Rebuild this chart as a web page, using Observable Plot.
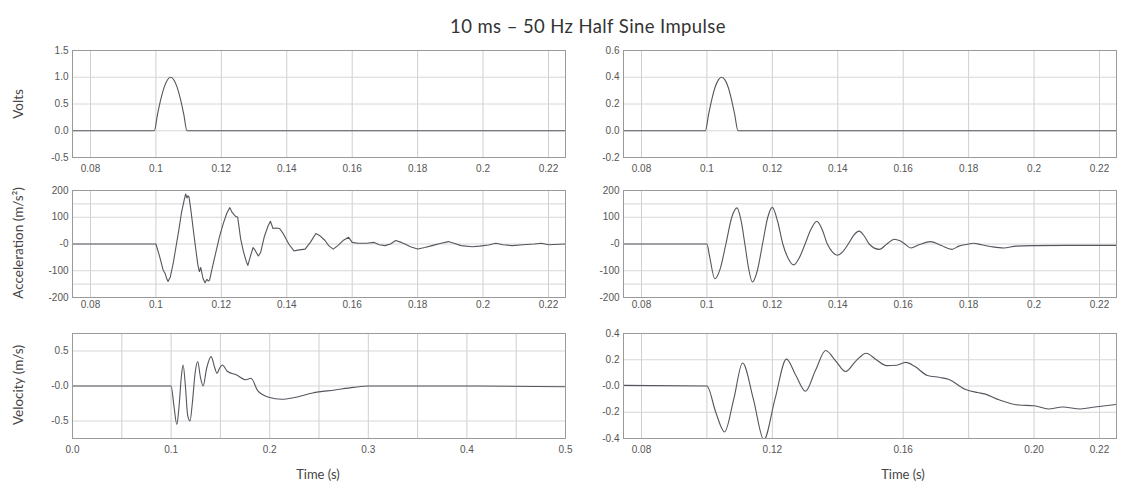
<!DOCTYPE html>
<html><head><meta charset="utf-8">
<script src="https://cdn.jsdelivr.net/npm/d3@7"></script>
<script src="https://cdn.jsdelivr.net/npm/@observablehq/plot@0.6"></script>
<style>
body{margin:0;background:#fff;}
#root{position:relative;width:1124px;height:490px;overflow:hidden;font-family:Lato, "Open Sans", sans-serif;}
.title{position:absolute;left:0;width:1176px;top:15px;text-align:center;font-size:18.5px;letter-spacing:0.4px;color:#333;}
.ylab{position:absolute;transform:translate(-50%,-50%) rotate(-90deg);white-space:nowrap;font-size:13.5px;color:#444;}
.xlab{position:absolute;transform:translate(-50%,-50%);white-space:nowrap;font-size:13px;color:#444;}
</style></head><body><div id="root"></div>
<script>
// ---------- data ----------
const title = "10 ms \u2013 50 Hz Half Sine Impulse";
const yTitles = ["Volts", "Acceleration (m/s\u00B2)", "Velocity (m/s)"];
const xTitle = "Time (s)";

// x ticks for the zoomed time panels
const zoomDomain = [0.0745, 0.2252];
const zoomTicks = [0.08, 0.1, 0.12, 0.14, 0.16, 0.18, 0.2, 0.22];
const zoomTickLabels = ["0.08", "0.1", "0.12", "0.14", "0.16", "0.18", "0.2", "0.22"];
const velZoomLabelTicks = [0.08, 0.12, 0.16, 0.2, 0.22];
const velZoomLabels = ["0.08", "0.12", "0.16", "0.20", "0.22"];
const fullDomain = [0, 0.5];
const fullGrid = [0.05, 0.1, 0.15, 0.2, 0.25, 0.3, 0.35, 0.4, 0.45];
const fullTicks = [0, 0.1, 0.2, 0.3, 0.4, 0.5];
const fullTickLabels = ["0.0", "0.1", "0.2", "0.3", "0.4", "0.5"];

// y ticks
const voltsLTicks = [-0.5, 0, 0.5, 1, 1.5];
const voltsLLabels = ["-0.5", "0.0", "0.5", "1.0", "1.5"];
const voltsRTicks = [-0.2, 0, 0.2, 0.4, 0.6];
const voltsRLabels = ["-0.2", "0.0", "0.2", "0.4", "0.6"];
const accTicks = [-200, -100, 0, 100, 200];
const accLabels = ["-200", "-100", "-0", "100", "200"];
const accGrid = [-150, -100, 0, 100, 150];
const velLTicks = [-0.5, 0, 0.5];
const velLLabels = ["-0.5", "-0.0", "0.5"];
const velRTicks = [-0.4, -0.2, 0, 0.2, 0.4];
const velRLabels = ["-0.4", "-0.2", "-0.0", "0.2", "0.4"];

// series: volts (half sine pulse)
const voltsT = [0.0745, 0.0995, 0.1005, 0.1015, 0.1025, 0.1035, 0.1045, 0.1055, 0.1065, 0.1075, 0.1085, 0.1095, 0.2252];
const voltsL = [0, 0, 0.31, 0.59, 0.81, 0.95, 1.0, 0.95, 0.81, 0.59, 0.31, 0, 0];
const voltsR = [0, 0, 0.12, 0.235, 0.325, 0.38, 0.4, 0.38, 0.325, 0.235, 0.12, 0, 0];

// series: acceleration, left
const accLT = [0.0745, 0.1, 0.1011, 0.1022, 0.1028, 0.1033, 0.1037, 0.1044, 0.1053, 0.1061, 0.107, 0.1078, 0.1087, 0.1091, 0.1095, 0.1098, 0.1101, 0.1106, 0.1117, 0.1128, 0.1133, 0.1137, 0.1144, 0.115, 0.1156, 0.116, 0.1164, 0.1172, 0.1183, 0.1194, 0.1206, 0.1217, 0.1226, 0.1233, 0.1242, 0.125, 0.1259, 0.1267, 0.1276, 0.1281, 0.1289, 0.1297, 0.1303, 0.1313, 0.132, 0.1331, 0.1342, 0.135, 0.1358, 0.1367, 0.1378, 0.1389, 0.1406, 0.1422, 0.1433, 0.1456, 0.1472, 0.1489, 0.15, 0.1517, 0.1528, 0.1542, 0.1556, 0.1572, 0.1589, 0.16, 0.1617, 0.1644, 0.1667, 0.1683, 0.17, 0.1717, 0.1733, 0.175, 0.1761, 0.1778, 0.18, 0.1822, 0.1844, 0.1872, 0.1894, 0.1911, 0.1933, 0.1967, 0.1989, 0.2017, 0.2039, 0.2061, 0.2089, 0.2122, 0.2156, 0.2178, 0.22, 0.2252];
const accLV = [0, 0, -45, -97, -110, -129, -140, -123, -71, -13, 52, 116, 168, 187, 172, 180, 176, 135, 26, -77, -103, -88, -129, -145, -132, -138, -135, -90, -32, 26, 77, 116, 136, 118, 105, 100, 19, -26, -65, -80, -45, -13, -23, -45, -32, 26, 65, 85, 58, 60, 58, 39, 0, -26, -23, -19, 6, 39, 32, 13, -6, -19, -6, 13, 25, 6, 3, 3, 6, -3, -6, 0, 13, 6, 0, -10, -19, -13, -6, 3, 9, 3, -6, -10, -8, -4, 3, -3, -6, -3, 0, 3, -3, 0];

// series: acceleration, right
const accRT = [0.0745, 0.1, 0.1008, 0.1024, 0.104, 0.1058, 0.1076, 0.1092, 0.1104, 0.1116, 0.1128, 0.1139, 0.1154, 0.117, 0.1186, 0.12, 0.1216, 0.1232, 0.1249, 0.1265, 0.1283, 0.13, 0.1318, 0.1336, 0.1352, 0.1368, 0.1384, 0.1399, 0.1416, 0.1432, 0.1449, 0.1465, 0.1481, 0.1496, 0.1527, 0.155, 0.1573, 0.159, 0.1605, 0.1623, 0.165, 0.1683, 0.1715, 0.1749, 0.177, 0.18, 0.1814, 0.184, 0.187, 0.1907, 0.1945, 0.2, 0.21, 0.2252];
const accRV = [0, 0, -45, -130, -95, 0, 100, 135, 90, 0, -95, -142, -100, 0, 100, 137, 85, 0, -55, -78, -50, 0, 55, 85, 55, 0, -30, -42, -28, 0, 33, 48, 30, 0, -20, 0, 18, 12, 0, -15, -2, 9, -5, -20, -8, 0, 3, -3, -10, -15, -8, -6, -5, -5];

// series: velocity, left (full time range)
const velLT = [0, 0.1, 0.103, 0.1058, 0.108, 0.1105, 0.1122, 0.1145, 0.1168, 0.1192, 0.1215, 0.1245, 0.127, 0.1298, 0.1325, 0.136, 0.1405, 0.1445, 0.1465, 0.149, 0.152, 0.157, 0.166, 0.176, 0.181, 0.188, 0.199, 0.212, 0.225, 0.2435, 0.266, 0.285, 0.3, 0.4, 0.5];
const velLV = [0, 0, -0.3, -0.55, -0.3, 0.15, 0.3, 0.0, -0.42, -0.5, -0.25, 0.2, 0.35, 0.12, 0.0, 0.25, 0.42, 0.25, 0.18, 0.25, 0.3, 0.21, 0.16, 0.09, 0.11, -0.07, -0.16, -0.19, -0.165, -0.1, -0.057, -0.02, 0.0, 0.0, -0.01];

// series: velocity, right (zoomed)
const velRT = [0.0745, 0.1, 0.1027, 0.1054, 0.1082, 0.1109, 0.1142, 0.1174, 0.1208, 0.1243, 0.1272, 0.1301, 0.1332, 0.1363, 0.1394, 0.1424, 0.1455, 0.1487, 0.1518, 0.1549, 0.158, 0.1608, 0.1635, 0.1674, 0.1712, 0.174, 0.1789, 0.1827, 0.1849, 0.1893, 0.1953, 0.2, 0.2044, 0.2087, 0.2142, 0.2186, 0.2252];
const velRV = [0.005, 0.0, -0.2, -0.35, -0.1, 0.175, -0.1, -0.41, -0.1, 0.205, 0.08, -0.04, 0.12, 0.27, 0.19, 0.11, 0.19, 0.25, 0.2, 0.155, 0.158, 0.18, 0.15, 0.08, 0.065, 0.05, -0.025, -0.05, -0.06, -0.105, -0.145, -0.15, -0.175, -0.16, -0.175, -0.16, -0.14];

// ---------- drawing ----------
const root = document.getElementById("root");
const rows = (T, V) => T.map((t, i) => ({t, v: V[i]}));
const fmt = (ticks, labels) => { const m = new Map(ticks.map((d, i) => [d, labels[i]])); return d => m.get(d) ?? ""; };

function panel(o) {
  const ML = 44, MR = 6, MT = 6, MB = 24;
  const svg = Plot.plot({
    width: o.w + ML + MR, height: o.h + MT + MB,
    marginLeft: ML, marginRight: MR, marginTop: MT, marginBottom: MB,
    x: {domain: o.xDomain}, y: {domain: o.yDomain},
    style: {fontFamily: "'Liberation Sans', sans-serif", fontSize: "10px", color: "#555", background: "transparent", overflow: "visible"},
    marks: [
      Plot.gridX(o.xGrid, {stroke: "#cfcfcf", strokeOpacity: 1}),
      Plot.gridY(o.yGrid, {stroke: "#d6d6d6", strokeOpacity: 1}),
      Plot.line(o.data, {x: "t", y: "v", curve: o.curve, stroke: "#55555e", strokeWidth: 1.1, clip: true}),
      Plot.frame({stroke: "#9a9a9a"}),
      Plot.axisX(o.xTicks, {tickSize: 0, tickPadding: o.xPad ?? 7, tickFormat: fmt(o.xTicks, o.xLabels), label: null}),
      Plot.axisY(o.yTicks, {tickSize: 0, tickPadding: 4, tickFormat: fmt(o.yTicks, o.yLabels), label: null})
    ]
  });
  svg.style.position = "absolute";
  svg.style.left = (o.left - ML) + "px";
  svg.style.top = (o.top - MT) + "px";
  root.appendChild(svg);
}

const L = 72, R = 623, W = 493;
const rowTop = [50, 190, 333], rowH = [107, 107, 105];

panel({left: L, top: rowTop[0], w: W, h: rowH[0], xDomain: zoomDomain, yDomain: [-0.5, 1.5],
  xGrid: zoomTicks, xTicks: zoomTicks, xLabels: zoomTickLabels, yGrid: [0, 0.5, 1], yTicks: voltsLTicks, yLabels: voltsLLabels,
  data: rows(voltsT, voltsL), curve: "monotone-x"});
panel({left: R, top: rowTop[0], w: W, h: rowH[0], xDomain: zoomDomain, yDomain: [-0.2, 0.6],
  xGrid: zoomTicks, xTicks: zoomTicks, xLabels: zoomTickLabels, yGrid: [0, 0.2, 0.4], yTicks: voltsRTicks, yLabels: voltsRLabels,
  data: rows(voltsT, voltsR), curve: "monotone-x"});
panel({left: L, top: rowTop[1], w: W, h: rowH[1], xDomain: zoomDomain, yDomain: [-200, 200], xPad: 3,
  xGrid: zoomTicks, xTicks: zoomTicks, xLabels: zoomTickLabels, yGrid: accGrid, yTicks: accTicks, yLabels: accLabels,
  data: rows(accLT, accLV), curve: "linear"});
panel({left: R, top: rowTop[1], w: W, h: rowH[1], xDomain: zoomDomain, yDomain: [-200, 200], xPad: 3,
  xGrid: zoomTicks, xTicks: zoomTicks, xLabels: zoomTickLabels, yGrid: accGrid, yTicks: accTicks, yLabels: accLabels,
  data: rows(accRT, accRV), curve: "monotone-x"});
panel({left: L, top: rowTop[2], w: W, h: rowH[2], xDomain: fullDomain, yDomain: [-0.75, 0.75],
  xGrid: fullGrid, xTicks: fullTicks, xLabels: fullTickLabels, yGrid: [-0.5, 0, 0.5], yTicks: velLTicks, yLabels: velLLabels,
  data: rows(velLT, velLV), curve: "monotone-x"});
panel({left: R, top: rowTop[2], w: W, h: rowH[2], xDomain: zoomDomain, yDomain: [-0.4, 0.4],
  xGrid: zoomTicks, xTicks: velZoomLabelTicks, xLabels: velZoomLabels, yGrid: [-0.2, 0, 0.2], yTicks: velRTicks, yLabels: velRLabels,
  data: rows(velRT, velRV), curve: "monotone-x"});

// texts
const t = document.createElement("div"); t.className = "title"; t.textContent = title; root.appendChild(t);
const yCenters = [104, 243, 385];
yTitles.forEach((s, i) => {
  const d = document.createElement("div"); d.className = "ylab"; d.textContent = s;
  d.style.left = "18px"; d.style.top = yCenters[i] + "px"; root.appendChild(d);
});
[[318, 474], [903, 474]].forEach(([x, y]) => {
  const d = document.createElement("div"); d.className = "xlab"; d.textContent = xTitle;
  d.style.left = x + "px"; d.style.top = y + "px"; root.appendChild(d);
});
</script></body></html>
